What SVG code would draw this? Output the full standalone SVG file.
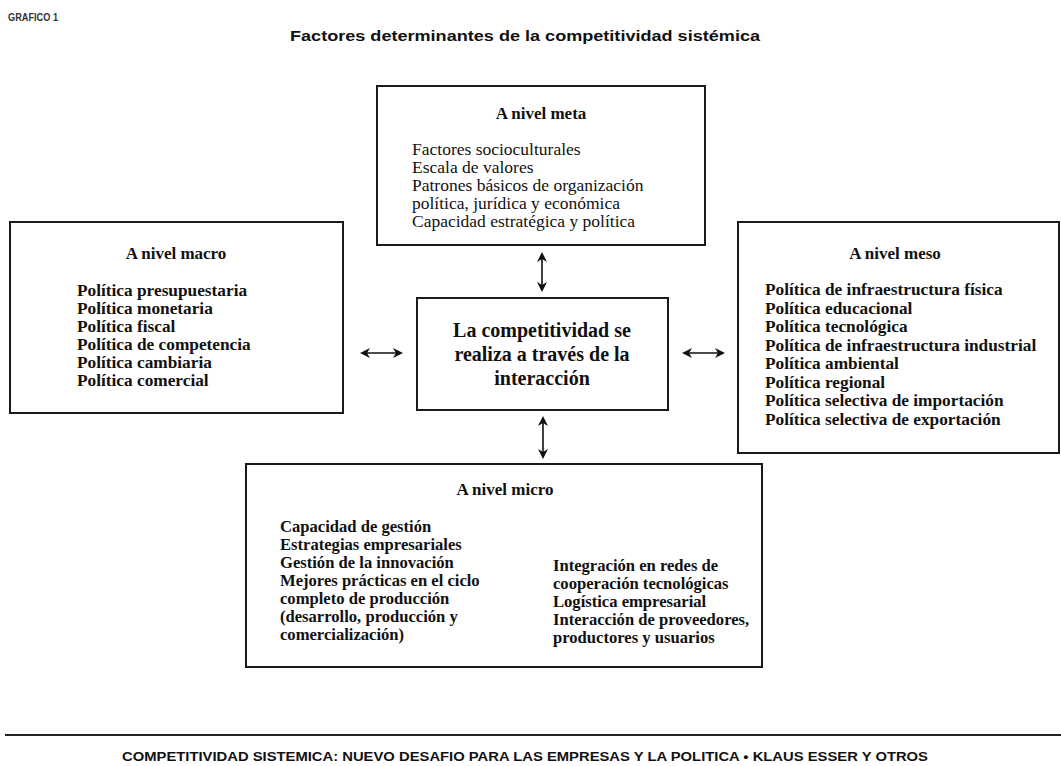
<svg xmlns="http://www.w3.org/2000/svg" width="1061" height="766" viewBox="0 0 1061 766">
<style>
.box{fill:#fff;stroke:#1a1a1a;stroke-width:2}
.ttl{font-family:"Liberation Serif",serif;font-weight:bold;font-size:17px;fill:#111;text-anchor:middle}
.txt{font-family:"Liberation Serif",serif;font-size:17.5px;fill:#111}
.bt{font-family:"Liberation Serif",serif;font-weight:bold;font-size:17.3px;fill:#111}
.mt{font-family:"Liberation Serif",serif;font-size:16.6px;font-weight:bold;fill:#111}
.ctr{font-family:"Liberation Serif",serif;font-weight:bold;font-size:20px;fill:#111;text-anchor:middle}
.arr{stroke:#111;stroke-width:1.6;fill:none}
</style>
<defs>
<marker id="ah" viewBox="0 0 10 10" refX="8" refY="5" markerWidth="10" markerHeight="10" markerUnits="userSpaceOnUse" orient="auto-start-reverse">
<path d="M0,0 L10,5 L0,10 L3,5 Z" fill="#111"/>
</marker>
</defs>
<rect width="1061" height="766" fill="#fff"/>
<text x="8" y="21" font-family="Liberation Sans,sans-serif" font-size="10" font-weight="bold" fill="#333" textLength="50" lengthAdjust="spacingAndGlyphs">GRAFICO 1</text>
<text x="525" y="41" font-family="Liberation Sans,sans-serif" font-size="15" font-weight="bold" fill="#111" text-anchor="middle" textLength="470" lengthAdjust="spacingAndGlyphs">Factores determinantes de la competitividad sistémica</text>

<g id="meta">
<rect class="box" x="377" y="86" width="328" height="159"/>
<text class="ttl" x="541" y="119">A nivel meta</text>
<text class="txt" x="412" y="155">Factores socioculturales</text>
<text class="txt" x="412" y="173">Escala de valores</text>
<text class="txt" x="412" y="191">Patrones básicos de organización</text>
<text class="txt" x="412" y="209">política, jurídica y económica</text>
<text class="txt" x="412" y="227">Capacidad estratégica y política</text>
</g>

<g id="macro">
<rect class="box" x="10" y="222" width="333" height="191"/>
<text class="ttl" x="176" y="259">A nivel macro</text>
<text class="bt" x="77" y="296">Política presupuestaria</text>
<text class="bt" x="77" y="314">Política monetaria</text>
<text class="bt" x="77" y="332">Política fiscal</text>
<text class="bt" x="77" y="350">Política de competencia</text>
<text class="bt" x="77" y="368">Política cambiaria</text>
<text class="bt" x="77" y="386">Política comercial</text>
</g>

<g id="meso">
<rect class="box" x="738" y="222" width="321" height="231"/>
<text class="ttl" x="895" y="259">A nivel meso</text>
<text class="bt" x="765" y="295">Política de infraestructura física</text>
<text class="bt" x="765" y="313.5">Política educacional</text>
<text class="bt" x="765" y="332">Política tecnológica</text>
<text class="bt" x="765" y="350.5">Política de infraestructura industrial</text>
<text class="bt" x="765" y="369">Política ambiental</text>
<text class="bt" x="765" y="387.5">Política regional</text>
<text class="bt" x="765" y="406">Política selectiva de importación</text>
<text class="bt" x="765" y="424.5">Política selectiva de exportación</text>
</g>

<g id="centro">
<rect class="box" x="417" y="298" width="251" height="112"/>
<text class="ctr" x="542" y="337">La competitividad se</text>
<text class="ctr" x="542" y="361">realiza a través de la</text>
<text class="ctr" x="542" y="385">interacción</text>
</g>

<g id="micro">
<rect class="box" x="246" y="464" width="516" height="203"/>
<text class="ttl" x="505" y="495">A nivel micro</text>
<text class="mt" x="280" y="532">Capacidad de gestión</text>
<text class="mt" x="280" y="550">Estrategias empresariales</text>
<text class="mt" x="280" y="568">Gestión de la innovación</text>
<text class="mt" x="280" y="586">Mejores prácticas en el ciclo</text>
<text class="mt" x="280" y="604">completo de producción</text>
<text class="mt" x="280" y="622">(desarrollo, producción y</text>
<text class="mt" x="280" y="640">comercialización)</text>
<text class="mt" x="553" y="571">Integración en redes de</text>
<text class="mt" x="553" y="589">cooperación tecnológicas</text>
<text class="mt" x="553" y="607">Logística empresarial</text>
<text class="mt" x="553" y="625">Interacción de proveedores,</text>
<text class="mt" x="553" y="643">productores y usuarios</text>
</g>

<g id="conectores">
<line class="arr" x1="542" y1="254" x2="542" y2="290" marker-start="url(#ah)" marker-end="url(#ah)"/>
<line class="arr" x1="543" y1="418" x2="543" y2="457" marker-start="url(#ah)" marker-end="url(#ah)"/>
<line class="arr" x1="362" y1="353" x2="401" y2="353" marker-start="url(#ah)" marker-end="url(#ah)"/>
<line class="arr" x1="684" y1="353" x2="723" y2="353" marker-start="url(#ah)" marker-end="url(#ah)"/>
</g>

<line x1="5" y1="735" x2="1061" y2="735" stroke="#222" stroke-width="2"/>
<text x="525" y="761" font-family="Liberation Sans,sans-serif" font-size="12" font-weight="bold" fill="#111" text-anchor="middle" textLength="806" lengthAdjust="spacingAndGlyphs">COMPETITIVIDAD SISTEMICA: NUEVO DESAFIO PARA LAS EMPRESAS Y LA POLITICA • KLAUS ESSER Y OTROS</text>
</svg>
